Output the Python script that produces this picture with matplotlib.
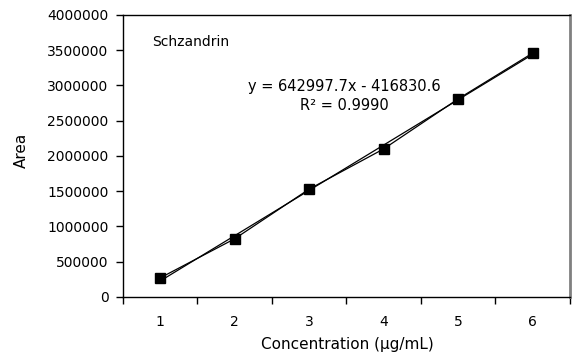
import matplotlib
matplotlib.use("Agg")
import matplotlib.pyplot as plt
import numpy as np

plt.rcParams['font.family'] = ['DejaVu Sans']

categories = [1, 2, 3, 4, 5, 6]
area = [270000, 825000, 1530000, 2100000, 2810000, 3460000]
slope = 642997.7
intercept = -416830.6
r2 = 0.9990
yticks = list(range(0, 4000001, 500000))

fig = plt.figure(figsize=(5.72, 3.56), dpi=100)
ax = fig.add_axes([0.215, 0.166, 0.7815, 0.792])

x = np.array(categories, dtype=float)
trend = slope * x + intercept
ax.plot(x, trend, color='black', lw=0.9, zorder=2)
ax.plot(x, area, color='black', lw=0.9, marker='s', markersize=6.5,
        markerfacecolor='black', markeredgecolor='black', zorder=3)

ax.set_xlim(0.5, 6.5)
ax.set_ylim(0, 4000000)
ax.set_yticks(yticks)
ax.set_yticklabels([str(v) for v in yticks], fontsize=10)
ax.set_xticks([c for c in categories])
ax.set_xticklabels([str(c) for c in categories], fontsize=10)
ax.set_xticks([c + 0.5 for c in [0] + categories], minor=True)
ax.tick_params(axis='x', which='major', length=0, pad=13)
ax.tick_params(axis='x', which='minor', length=5, width=1, direction='out')
ax.tick_params(axis='y', which='major', length=5, width=1, direction='out', pad=5.5)

for s in ['left', 'bottom', 'top']:
    ax.spines[s].set_color('black')
    ax.spines[s].set_linewidth(1.0)
ax.spines['right'].set_color('#808080')
ax.spines['right'].set_linewidth(2.0)

ax.set_xlabel('Concentration (µg/mL)', fontsize=11)
ax.set_ylabel('Area', fontsize=11)
ax.xaxis.label.set_va('center')
ax.yaxis.label.set_va('center')
ax.xaxis.set_label_coords(0.501, -0.17)
ax.yaxis.set_label_coords(-0.228, 0.52)

ax.text(0.065, 0.905, 'Schzandrin', transform=ax.transAxes, fontsize=10,
        ha='left', va='center')
ax.text(0.495, 0.745, f'y = {slope:.1f}x - {abs(intercept):.1f}',
        transform=ax.transAxes, fontsize=10.5, ha='center', va='center')
ax.text(0.495, 0.68, f'R² = {r2:.4f}', transform=ax.transAxes, fontsize=10.5,
        ha='center', va='center')

fig.savefig('out.png', dpi=100)
